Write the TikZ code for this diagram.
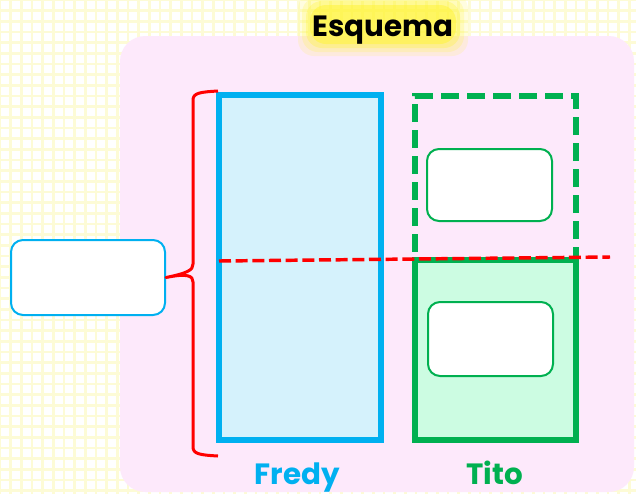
\documentclass[tikz,border=0pt]{standalone}
\usepackage{fontspec}
\setmainfont{Poppins}
\definecolor{azul}{HTML}{00B0F0}
\definecolor{celeste}{HTML}{D5F2FC}
\definecolor{verde}{HTML}{00B050}
\definecolor{menta}{HTML}{CCFCE2}
\definecolor{rosa}{HTML}{FDE9FB}
\definecolor{rojo}{HTML}{FF0000}
\definecolor{cuadro}{HTML}{FDFBD6}
\tikzset{caja/.style={rectangle,draw,line width=4.5pt}}
\tikzset{hueco/.style={rectangle,draw,fill=white,rounded corners=9pt,line width=1.5pt}}
\tikzset{t/.style={font=\bfseries\fontsize{22}{26}\selectfont,inner sep=0pt}}

\begin{document}
\begin{tikzpicture}[x=0.75pt,y=-0.75pt]
      \useasboundingbox (0,0) rectangle (636,494);
      \fill[white] (0,0) rectangle (636,494);
      \draw[cuadro,line width=2.2pt,step=8pt] (0,0) grid (636,494);
      \fill[rosa,rounded corners=19pt] (120,36) rectangle (634,492);
      \foreach \g/\o in {14/0.15,10/0.2,6/0.3,2/0.5}
        \fill[yellow!80,opacity=\o,rounded corners=12pt] ({312-\g},{7-\g}) rectangle ({454+\g},{42+\g});
      \node[t,anchor=base] (titulo) at (383,36) {Esquema};
      \node[caja,draw=azul,fill=celeste,minimum width=121.5pt,minimum height=258.75pt] (fredy) at (300,267.5) {};
      \node[caja,draw=verde,fill=menta,minimum width=120.75pt,minimum height=135pt] (abajo) at (495.5,350) {};
      \node[caja,draw=verde,dash pattern=on 13.5pt off 6pt,minimum width=120.75pt,minimum height=123pt] (arriba) at (495.5,178) {};
      \node[hueco,draw=verde,minimum width=93.75pt,minimum height=54pt] (h1) at (489.5,185) {};
      \node[hueco,draw=verde,minimum width=93.75pt,minimum height=55.5pt] (h2) at (490.5,339) {};
      \node[hueco,draw=azul,minimum width=115.5pt,minimum height=56.25pt] (total) at (88,277.5) {};
      \node[t,text=azul,anchor=base] (n1) at (297,484) {Fredy};
      \node[t,text=verde,anchor=base] (n2) at (494.5,484) {Tito};
      \coordinate (ini) at (219,261);
      \coordinate (fin) at (610,257);
      \coordinate (b1) at (218,91);
      \coordinate (b2) at (218,456);
      \draw[rojo,line width=2.6pt,dash pattern=on 9pt off 3.5pt] (ini) -- (fin);
      \draw[rojo,line width=2.25pt,line join=round]
        (b1) .. controls (200,92) and (193,93) .. (193,100) -- (193,264)
        .. controls (193,270) and (188,273) .. (total.east)
        .. controls (188,273) and (193,276) .. (193,282) -- (193,447)
        .. controls (193,454) and (200,455) .. (b2);
    \end{tikzpicture}
\end{document}
